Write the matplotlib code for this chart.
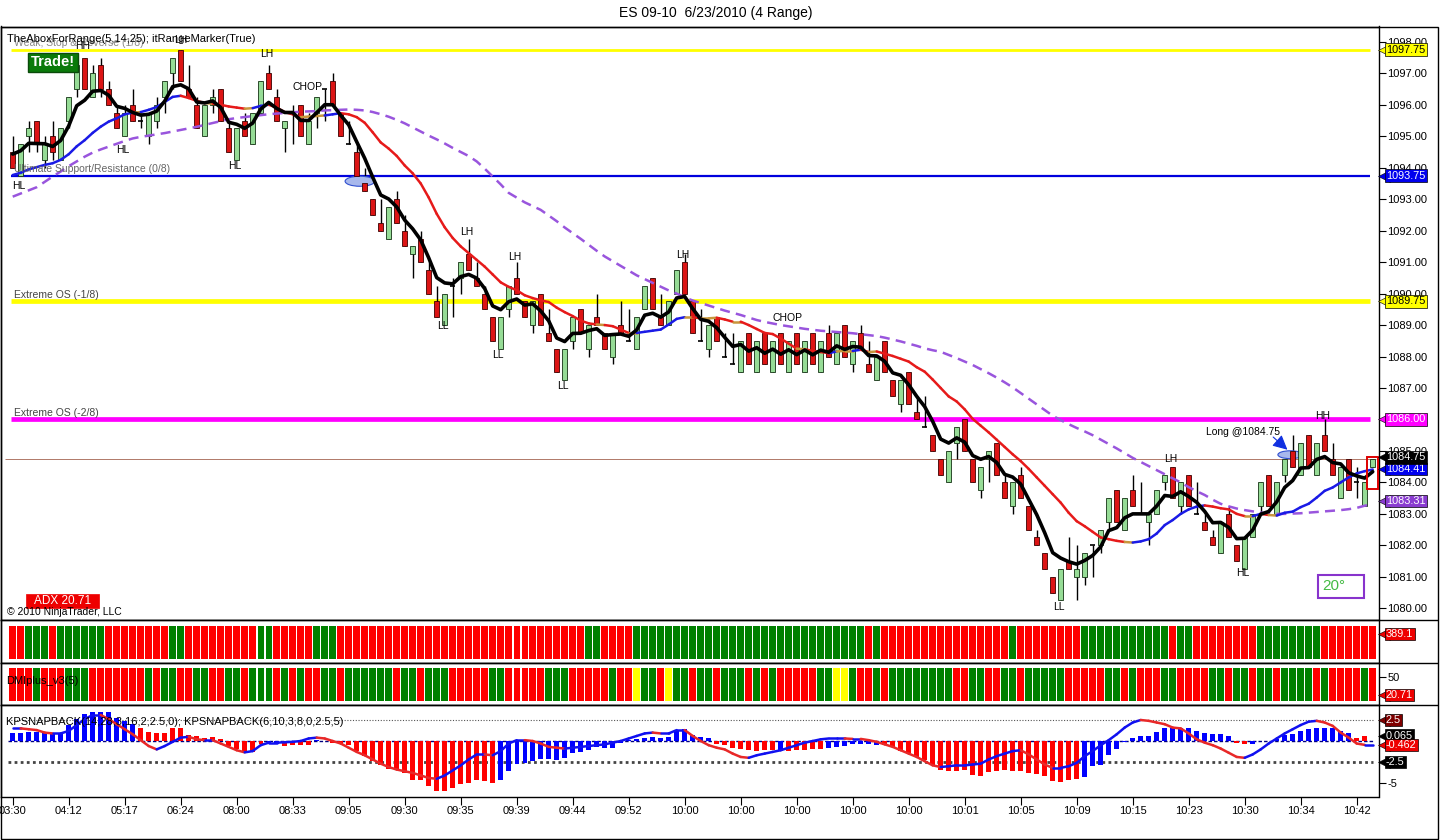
import numpy as np
import matplotlib
matplotlib.use('Agg')
import matplotlib.pyplot as plt
from matplotlib.collections import LineCollection
from matplotlib.patches import Ellipse, Rectangle
from matplotlib.ticker import FormatStrFormatter
import matplotlib.transforms as mtransforms

plt.rcParams['font.family'] = ['Liberation Sans', 'DejaVu Sans']

# ---------------- data ----------------
opens = [
    1094.5, 1093.75, 1095.0, 1095.5, 1094.25, 1095.0, 1094.25, 1095.5, 1096.5, 1097.5,
    1096.25, 1097.25, 1096.5, 1095.75, 1095.0, 1096.0, 1095.5, 1095.0, 1095.5, 1096.25,
    1097.0, 1097.75, 1096.5, 1096.0, 1095.0, 1096.0, 1096.5, 1095.25, 1094.25, 1095.5,
    1094.75, 1095.75, 1097.0, 1096.25, 1095.25, 1095.75, 1096.0, 1094.75, 1095.75, 1096.5,
    1096.75, 1095.75, 1094.75, 1094.5, 1093.5, 1093.0, 1092.25, 1091.75, 1093.0, 1092.0,
    1091.25, 1091.75, 1090.75, 1089.75, 1089.0, 1090.25, 1090.5, 1091.25, 1090.5, 1090.0,
    1089.25, 1088.25, 1089.5, 1090.5, 1089.75, 1089.0, 1090.0, 1088.75, 1088.25, 1087.25,
    1088.5, 1089.5, 1088.25, 1089.25, 1088.75, 1088.0, 1089.0, 1088.5, 1088.25, 1089.5,
    1090.5, 1089.25, 1089.0, 1090.0, 1091.0, 1089.75, 1088.5, 1088.25, 1089.25, 1088.0,
    1087.75, 1087.5, 1088.75, 1087.5, 1088.75, 1087.5, 1088.75, 1087.5, 1088.75, 1087.5,
    1088.75, 1087.5, 1088.75, 1087.75, 1089.0, 1087.75, 1088.75, 1087.75, 1087.25, 1088.5,
    1087.25, 1086.5, 1087.5, 1086.25, 1085.75, 1085.5, 1084.75, 1084.0, 1085.25, 1086.0,
    1084.75, 1083.75, 1084.75, 1085.25, 1084.0, 1083.25, 1084.25, 1083.25, 1082.25, 1081.75,
    1081.0, 1080.25, 1081.5, 1081.0, 1081.0, 1082.0, 1082.0, 1082.75, 1083.75, 1082.5,
    1083.75, 1083.0, 1082.75, 1083.0, 1084.0, 1084.5, 1083.25, 1084.25, 1083.0, 1082.75,
    1082.25, 1081.75, 1083.0, 1082.0, 1081.25, 1082.25, 1083.25, 1084.25, 1083.0, 1084.25,
    1085.0, 1084.25, 1085.5, 1084.25, 1085.5, 1084.75, 1083.5, 1084.75, 1084.0, 1083.25,
    1084.5]
highs = [
    1095.0, 1094.75, 1095.5, 1095.5, 1095.0, 1095.5, 1095.25, 1096.25, 1097.5, 1097.5,
    1097.25, 1097.5, 1096.75, 1096.0, 1096.0, 1096.5, 1095.75, 1095.75, 1096.25, 1096.75,
    1097.5, 1097.75, 1097.25, 1096.25, 1096.0, 1096.5, 1096.5, 1095.5, 1095.25, 1095.75,
    1095.75, 1096.75, 1097.25, 1096.5, 1095.5, 1096.0, 1096.0, 1095.75, 1096.25, 1096.5,
    1097.0, 1095.75, 1095.5, 1094.75, 1094.0, 1093.0, 1093.0, 1092.75, 1093.25, 1092.5,
    1091.5, 1092.0, 1091.0, 1090.25, 1090.0, 1090.5, 1091.0, 1091.75, 1091.0, 1090.25,
    1089.25, 1089.25, 1090.25, 1091.0, 1089.75, 1089.75, 1090.0, 1089.5, 1088.25, 1088.25,
    1089.25, 1089.5, 1089.0, 1090.0, 1088.75, 1088.75, 1089.75, 1089.5, 1089.25, 1090.25,
    1090.5, 1090.0, 1089.75, 1090.75, 1091.25, 1089.75, 1089.5, 1089.0, 1089.25, 1088.75,
    1088.75, 1088.5, 1088.75, 1088.5, 1088.75, 1088.5, 1088.75, 1088.5, 1088.75, 1088.5,
    1088.75, 1088.5, 1089.0, 1088.75, 1089.0, 1088.5, 1089.0, 1088.5, 1088.0, 1088.5,
    1087.25, 1087.25, 1087.5, 1086.75, 1086.75, 1085.5, 1084.75, 1085.0, 1085.75, 1086.0,
    1084.75, 1084.5, 1085.0, 1085.25, 1084.25, 1084.0, 1084.5, 1083.25, 1082.5, 1081.75,
    1081.0, 1081.25, 1082.25, 1082.0, 1081.75, 1082.0, 1082.5, 1083.5, 1083.75, 1083.5,
    1084.25, 1084.0, 1083.0, 1083.75, 1084.25, 1084.5, 1084.0, 1084.25, 1084.0, 1083.0,
    1082.5, 1082.75, 1083.25, 1082.0, 1082.25, 1083.0, 1084.0, 1084.25, 1084.0, 1084.75,
    1085.5, 1085.25, 1085.5, 1085.25, 1086.0, 1085.25, 1084.5, 1084.75, 1084.5, 1084.0,
    1084.75]
lows = [
    1094.0, 1093.75, 1094.5, 1094.5, 1094.0, 1094.25, 1094.25, 1095.25, 1096.25, 1096.5,
    1096.25, 1096.25, 1096.0, 1095.25, 1095.0, 1095.5, 1095.25, 1094.75, 1095.25, 1095.75,
    1096.5, 1096.75, 1096.25, 1095.25, 1095.0, 1095.75, 1095.5, 1094.5, 1094.25, 1095.0,
    1094.75, 1095.75, 1096.5, 1095.5, 1094.5, 1094.75, 1095.0, 1094.75, 1095.25, 1095.5,
    1096.0, 1095.0, 1094.75, 1093.75, 1093.25, 1092.5, 1092.0, 1091.75, 1092.25, 1091.5,
    1090.5, 1091.0, 1090.0, 1089.25, 1089.0, 1089.25, 1090.0, 1090.75, 1090.25, 1089.5,
    1088.5, 1088.25, 1089.25, 1090.0, 1089.25, 1088.75, 1089.0, 1088.5, 1087.5, 1087.25,
    1088.25, 1088.75, 1088.0, 1089.0, 1088.25, 1087.75, 1088.75, 1088.5, 1088.25, 1089.5,
    1089.5, 1089.0, 1089.0, 1090.0, 1090.0, 1088.75, 1088.5, 1088.0, 1088.5, 1088.0,
    1087.75, 1087.5, 1087.75, 1087.5, 1087.75, 1087.5, 1087.75, 1087.5, 1087.75, 1087.5,
    1087.75, 1087.5, 1088.0, 1087.75, 1088.0, 1087.5, 1088.25, 1087.5, 1087.25, 1087.5,
    1086.75, 1086.25, 1086.5, 1086.0, 1085.75, 1085.0, 1084.25, 1084.0, 1084.75, 1085.0,
    1084.0, 1083.5, 1084.0, 1084.25, 1083.5, 1083.0, 1083.5, 1082.5, 1082.0, 1081.25,
    1080.5, 1080.25, 1081.25, 1080.25, 1080.75, 1081.0, 1081.75, 1082.5, 1082.75, 1082.5,
    1083.25, 1083.0, 1082.0, 1083.0, 1083.75, 1083.5, 1083.0, 1083.25, 1083.0, 1082.5,
    1082.0, 1081.75, 1082.25, 1081.5, 1081.25, 1082.25, 1083.0, 1083.25, 1083.0, 1084.0,
    1084.5, 1084.25, 1084.5, 1084.25, 1085.0, 1084.25, 1083.5, 1083.75, 1083.5, 1083.25,
    1084.5]
closes = [
    1094.0, 1094.75, 1095.25, 1094.75, 1094.75, 1094.5, 1095.25, 1096.25, 1097.25, 1096.5,
    1097.0, 1096.5, 1096.0, 1095.25, 1095.75, 1095.5, 1095.5, 1095.75, 1096.0, 1096.75,
    1097.5, 1096.75, 1096.25, 1095.25, 1096.0, 1096.25, 1095.5, 1094.5, 1095.25, 1095.0,
    1095.75, 1096.75, 1096.5, 1095.5, 1095.5, 1095.75, 1095.0, 1095.5, 1096.25, 1096.5,
    1096.0, 1095.0, 1094.75, 1093.75, 1093.25, 1092.5, 1092.0, 1092.75, 1092.25, 1091.5,
    1091.5, 1091.0, 1090.0, 1089.25, 1090.0, 1090.25, 1091.0, 1090.75, 1090.25, 1089.5,
    1088.5, 1089.25, 1090.25, 1090.0, 1089.25, 1089.75, 1089.0, 1088.5, 1087.5, 1088.25,
    1089.25, 1088.75, 1089.0, 1089.0, 1088.25, 1088.75, 1088.75, 1088.5, 1089.25, 1090.25,
    1089.5, 1089.0, 1089.75, 1090.75, 1090.0, 1088.75, 1088.5, 1089.0, 1088.5, 1088.0,
    1087.75, 1088.5, 1087.75, 1088.5, 1087.75, 1088.5, 1087.75, 1088.5, 1087.75, 1088.5,
    1087.75, 1088.5, 1088.0, 1088.75, 1088.0, 1088.5, 1088.25, 1087.5, 1088.0, 1087.5,
    1086.75, 1087.25, 1086.5, 1086.0, 1085.75, 1085.0, 1084.25, 1085.0, 1085.75, 1085.0,
    1084.0, 1084.5, 1085.0, 1084.25, 1083.5, 1084.0, 1083.5, 1082.5, 1082.0, 1081.25,
    1080.5, 1081.25, 1081.25, 1081.25, 1081.75, 1082.0, 1082.5, 1083.5, 1082.75, 1083.5,
    1083.25, 1083.0, 1083.0, 1083.75, 1084.25, 1083.5, 1084.0, 1083.25, 1083.0, 1082.5,
    1082.0, 1082.75, 1082.25, 1081.5, 1082.25, 1083.0, 1084.0, 1083.25, 1084.0, 1084.75,
    1084.5, 1085.25, 1084.5, 1085.25, 1085.0, 1084.25, 1084.5, 1083.75, 1084.0, 1084.0,
    1084.75]

# slow (25) average of the Abox indicator per bar
ma_slow = [
    1093.08, 1093.18, 1093.28, 1093.38, 1093.55, 1093.72, 1093.88, 1094.05, 1094.20, 1094.35,
    1094.48, 1094.58, 1094.67, 1094.76, 1094.85, 1094.93, 1094.98, 1095.02, 1095.06, 1095.10,
    1095.15, 1095.20, 1095.25, 1095.30, 1095.36, 1095.42, 1095.48, 1095.54, 1095.58, 1095.61,
    1095.64, 1095.67, 1095.70, 1095.72, 1095.74, 1095.76, 1095.78, 1095.79, 1095.80, 1095.82,
    1095.83, 1095.84, 1095.85, 1095.84, 1095.82, 1095.77, 1095.70, 1095.62, 1095.52, 1095.41,
    1095.28, 1095.15, 1095.02, 1094.90, 1094.77, 1094.63, 1094.50, 1094.37, 1094.20, 1093.97,
    1093.72, 1093.47, 1093.20, 1093.05, 1092.90, 1092.78, 1092.66, 1092.48, 1092.30, 1092.10,
    1091.92, 1091.74, 1091.55, 1091.36, 1091.18, 1091.03, 1090.88, 1090.73, 1090.58, 1090.46,
    1090.34, 1090.22, 1090.10, 1090.00, 1089.88, 1089.78, 1089.70, 1089.62, 1089.54, 1089.46,
    1089.39, 1089.32, 1089.24, 1089.16, 1089.10, 1089.05, 1089.00, 1088.96, 1088.92, 1088.88,
    1088.85, 1088.82, 1088.80, 1088.78, 1088.76, 1088.74, 1088.71, 1088.68, 1088.65, 1088.60,
    1088.54, 1088.48, 1088.41, 1088.34, 1088.26, 1088.20, 1088.15, 1088.05, 1087.95, 1087.84,
    1087.73, 1087.60, 1087.47, 1087.33, 1087.18, 1087.02, 1086.84, 1086.66, 1086.48, 1086.30,
    1086.12, 1085.98, 1085.85, 1085.73, 1085.62, 1085.50, 1085.36, 1085.22, 1085.08, 1084.93,
    1084.78, 1084.65, 1084.52, 1084.39, 1084.26, 1084.13, 1084.00, 1083.85, 1083.72, 1083.60,
    1083.45, 1083.32, 1083.24, 1083.17, 1083.12, 1083.08, 1083.04, 1083.02, 1083.00, 1083.00,
    1083.01, 1083.02, 1083.04, 1083.06, 1083.08, 1083.10, 1083.12, 1083.15, 1083.19, 1083.26,
    1083.31]

# values of the fast / mid averages before the first bar
ma_fast_seed, ma_mid_seed = 1094.65, 1093.75

# horizontal S/R levels
level_prices = [1097.75, 1093.75, 1089.75, 1086.00]
level_names = ['Weak, Stop & Reverse (1/8)', 'Ultimate Support/Resistance (0/8)',
               'Extreme OS (-1/8)', 'Extreme OS (-2/8)']
entry_price = 1084.75

# panel 2 / panel 3 colour states per bar
trend_states = ("RRGGGRGGGG" "GGRRRRRRRR" "GGRRRRRRRR" "RGGRRRRRGG" "GRRRRRRRRR"
                "RRRRRRRRRR" "RRRRRRRRRR" "RRGGRRRRGG" "GGGGGGGGGG" "GGGGGGGGGG"
                "GGGGGGGRGR" "RRRRRRRRRR" "RRRRRGRRRR" "RRRRGGGGGG" "GGGGGRGGRR"
                "RRRRRRGGGG" "GGGGRRRRRR" "R")
dmi_states = ("RRRGRRRGGG" "RRRRRRRGRG" "GRRGGRRGGR" "GGGRGRGRRG" "GRGGGGGGRG"
              "GRGGGR" "RRRR" "GGRRRRRGGG" "RRRRRGRRYG" "GRYGGRGGRG" "GGRGRGRRRR"
              "RGGYYGRRGR" "GGG" "GGGGGRR" "GGRRGGRGGG" "GGRRRRRGGR" "GRRRGGRRRR"
              "GGRGGRGGRG" "GGGRGRRRRG" "R")

# KPSNAPBACK histogram and line
snap_hist = [
    0.9, 1.0, 1.1, 1.1, 1.1, 1.0, 1.0, 1.9, 2.6, 3.2,
    3.4, 3.4, 3.4, 2.7, 2.4, 2.0, 1.5, 1.1, 1.0, 1.0,
    1.5, 1.6, 0.7, 0.6, 0.4, 0.5, 0.2, -0.6, -1.0, -1.2,
    -1.3, -0.3, -0.2, -0.3, -0.6, -0.5, -0.5, -0.5, 0.1, 0.05,
    -0.2, -0.4, -0.5, -1.2, -1.8, -2.4, -2.8, -3.3, -3.4, -3.8,
    -4.6, -4.7, -5.4, -6.0, -6.0, -5.6, -5.1, -5.0, -4.7, -4.8,
    -5.0, -4.7, -3.6, -2.7, -2.6, -2.4, -2.2, -2.2, -2.3, -2.0,
    -1.4, -1.3, -1.1, -0.7, -0.8, -0.8, -0.2, 0.1, 0.2, 0.4,
    0.5, 0.4, 0.5, 1.3, 1.4, 0.7, 0.5, 0.3, -0.4, -0.5,
    -0.8, -1.0, -1.1, -1.2, -1.1, -1.1, -1.2, -1.2, -1.1, -1.1,
    -1.0, -0.9, -0.8, -0.7, -0.6, -0.4, -0.3, -0.4, -0.5, -0.5,
    -0.7, -1.2, -1.4, -1.9, -2.3, -2.8, -3.4, -3.6, -3.6, -3.5,
    -4.1, -4.2, -3.7, -3.6, -3.5, -3.6, -3.6, -3.8, -3.9, -4.2,
    -4.8, -4.9, -4.6, -4.5, -4.3, -3.0, -2.9, -1.7, -1.0, -0.1,
    0.3, 0.6, 0.6, 1.1, 1.5, 1.5, 1.6, 1.6, 1.2, 1.0,
    0.8, 0.8, 0.6, -0.2, -0.4, -0.4, 0.05, 0.0, 0.2, 0.7,
    0.8, 1.2, 1.4, 1.5, 1.6, 1.5, 1.2, 1.0, 0.4, 0.6,
    0.0]
snap_hist_states = ("BBBBBBBBBB" "BBBBBBRRRR" "RRRRRRRRRR" "RRBBRRRRBB" "RRRRRRRRRR"
                    "RRRRRRRRRR" "RBBBBBBBBB" "BBBBBBBBBB" "BBBBBBBBRR" "RRRRRRBRRR"
                    "RRBBBBBBBR" "RRRRRRRRRR" "RRRRRRRRRR" "RRRRBBBBBB" "BBBBBBBBBB"
                    "BBBRRBBBBB" "BBBBBBBBRR" "R")
snap_line = [
    1.5, 1.5, 1.4, 1.3, 1.0, 0.9, 0.9, 1.2, 1.9, 2.6,
    3.1, 3.1, 2.6, 2.0, 1.4, 0.8, 0.1, -0.6, -1.0, -0.6,
    -0.1, 0.4, 0.5, 0.2, 0.1, 0.1, -0.3, -0.7, -1.1, -1.35,
    -1.2, -0.5, -0.2, -0.2, -0.15, -0.1, 0.0, 0.3, 0.4, 0.3,
    0.0, -0.3, -0.8, -1.3, -1.7, -2.2, -2.7, -3.1, -3.4, -3.6,
    -3.8, -4.1, -4.4, -4.5, -4.1, -3.5, -2.9, -2.2, -1.6, -1.6,
    -1.7, -1.2, -0.3, 0.1, 0.1, 0.0, -0.3, -0.7, -0.8, -0.9,
    -0.8, -0.7, -0.6, -0.5, -0.4, -0.2, 0.0, 0.3, 0.6, 0.9,
    1.0, 0.9, 0.9, 1.3, 1.3, 0.6, 0.0, -0.5, -0.8, -1.0,
    -1.5, -1.9, -2.0, -1.7, -1.5, -1.3, -1.1, -0.8, -0.5, -0.2,
    0.0, 0.2, 0.3, 0.3, 0.3, 0.25, 0.25, 0.1, -0.1, -0.4,
    -0.7, -1.1, -1.5, -1.9, -2.4, -2.9, -3.1, -3.0, -2.9, -2.9,
    -2.8, -2.7, -2.2, -1.8, -1.5, -1.2, -1.1, -1.6, -2.2, -2.8,
    -3.2, -3.2, -3.0, -2.6, -1.8, -1.2, -0.5, 0.1, 0.8, 1.6,
    2.2, 2.5, 2.4, 2.2, 2.0, 1.6, 1.5, 0.9, 0.2, -0.2,
    -0.5, -0.9, -1.4, -1.9, -2.0, -1.6, -1.0, -0.3, 0.3, 0.9,
    1.4, 1.9, 2.3, 2.4, 2.2, 1.8, 1.0, 0.4, -0.3, -0.462,
    -0.462]
snap_levels = [2.5, 0.0, -2.5]

time_labels = ['03:30', '04:12', '05:17', '06:24', '08:00', '08:33', '09:05', '09:30',
               '09:35', '09:39', '09:44', '09:52', '10:00', '10:00', '10:00', '10:00',
               '10:00', '10:01', '10:05', '10:09', '10:15', '10:23', '10:30', '10:34',
               '10:42']
bars_per_label = 7

# swing markers (text, bar position, price)
swing_text = ['HH', 'HL', 'HL', 'LH', 'HL', 'LH', 'CHOP', 'LL', 'LH', 'LL', 'LH', 'LL',
              'LH', 'CHOP', 'LL', 'LH', 'HL', 'HH']
swing_bar = [8.8, 0.7, 13.7, 21.0, 27.7, 31.8, 36.9, 53.8, 56.7, 60.7, 62.8, 68.8,
             83.8, 96.8, 130.8, 144.8, 153.8, 163.8]
swing_price = [1097.87, 1093.42, 1094.56, 1098.06, 1094.05, 1097.61, 1096.56, 1088.97,
               1091.96, 1088.05, 1091.16, 1087.06, 1091.22, 1089.22, 1080.05, 1084.74,
               1081.11, 1086.10]

# ---------------- figure layout ----------------
W, H = 1440, 840
fig = plt.figure(figsize=(W / 100, H / 100), dpi=100)
fig.patch.set_facecolor('white')


def px_axes(l, t, r, b):
    return fig.add_axes([l / W, 1 - b / H, (r - l) / W, (b - t) / H])


AX_L, AX_R = 1, 1378.5
X0, DX = 12.7, 8.0
ax = px_axes(AX_L, 26.5, AX_R, 620)
ax2 = px_axes(AX_L, 620, AX_R, 663)
ax3 = px_axes(AX_L, 663, AX_R, 705)
ax4 = px_axes(AX_L, 705, AX_R, 797)
ov = fig.add_axes([0, 0, 1, 1], zorder=20)
ov.set_xlim(0, W)
ov.set_ylim(H, 0)
ov.axis('off')
ov.patch.set_alpha(0)

n = len(closes)
x = np.arange(n)
o = np.array(opens); h = np.array(highs); l = np.array(lows); c = np.array(closes)
xl = ((AX_L - X0) / DX, (AX_R - X0) / DX)

for a in (ax, ax2, ax3, ax4):
    a.set_xlim(*xl)
    a.set_facecolor('white')
    for s in a.spines.values():
        s.set_color('black')
        s.set_linewidth(1)
    a.tick_params(axis='x', which='both', bottom=False, labelbottom=False)
    a.yaxis.tick_right()
    a.tick_params(axis='y', direction='out', length=5, width=0.8, labelsize=8, pad=1.5,
                  colors='black')

# ---------------- main price panel ----------------
ax.set_ylim(1097 - (620 - 73.3) / 31.47, 1097 + (73.3 - 26.5) / 31.47)
ax.set_yticks(np.arange(1080, 1099, 1))
ax.yaxis.set_major_formatter(FormatStrFormatter('%.2f'))

lvl_colors = ['#FFFF00', '#0000DD', '#FFFF00', '#FF00FF']
lvl_widths = [2.0, 1.6, 3.4, 3.4]
lvl_text_colors = ['#888888', '#666666', '#444444', '#444444']
for p, nm, col, lw, tc in zip(level_prices, level_names, lvl_colors, lvl_widths, lvl_text_colors):
    ax.hlines(p, -0.2, 169.7, color=col, lw=lw, zorder=2)
    ax.text(0.15, p + 0.12, nm, fontsize=7.5, color=tc, ha='left', va='baseline', zorder=7)
ax.hlines(entry_price, -0.9, 170.4, color='#B07868', lw=0.7, zorder=2)

# candles
up = c > o
dn = c < o
dj = c == o
ax.vlines(x, l, h, color='black', lw=1.0, zorder=3)
ax.bar(x[up], (c - o)[up], bottom=o[up], width=0.62, color='#96DC96', edgecolor='#143214',
       lw=0.6, zorder=4)
ax.bar(x[dn], (o - c)[dn], bottom=c[dn], width=0.62, color='#DC1414', edgecolor='#3C0000',
       lw=0.6, zorder=4)
ax.hlines(o[dj], x[dj] - 0.33, x[dj] + 0.33, color='black', lw=1.2, zorder=4)


def ema(vals, period, seed):
    a = 2.0 / (period + 1)
    e = seed
    out = []
    for v in vals:
        e = e + a * (v - e)
        out.append(e)
    return np.array(out)


def sma(vals, period, seed):
    padded = np.concatenate([np.full(period - 1, seed), np.asarray(vals, dtype=float)])
    csum = np.cumsum(np.insert(padded, 0, 0.0))
    return (csum[period:] - csum[:-period]) / period


ma_fast = ema(c, 5, ma_fast_seed)
ma_mid = sma(c, 14, ma_mid_seed)
slow = np.array(ma_slow)

ax.plot(x, slow, color='#9955DD', lw=1.8, dashes=(4, 2.5), zorder=5)
d = np.diff(ma_mid)
segs = [[(i, ma_mid[i]), (i + 1, ma_mid[i + 1])] for i in range(n - 1)]
seg_cols = ['#1A1AE6' if v > 0.03 else ('#E61A1A' if v < -0.03 else '#C8963C') for v in d]
ax.add_collection(LineCollection(segs, colors=seg_cols, linewidths=1.8, zorder=5.5,
                                 capstyle='round'))
ax.plot(x, ma_fast, color='black', lw=2.6, zorder=6, solid_capstyle='round')

# swing labels
for t, bx, py in zip(swing_text, swing_bar, swing_price):
    ax.text(bx, py, t, fontsize=7.5, ha='center', va='center', color='black', zorder=8)

# ellipses, arrow, last-bar box
ax.add_patch(Ellipse((43.4, 1093.57), 3.7, 0.32, fc='#A8B8EC', ec='#3050D0', lw=0.8,
                     zorder=3.5))
ax.add_patch(Ellipse((159.7, 1084.88), 3.1, 0.25, fc='#A8B8EC', ec='#3050D0', lw=0.8,
                     zorder=3.5))
ax.text(153.8, 1085.61, 'Long @1084.75', fontsize=7.5, ha='center', va='center', zorder=8)
ax.annotate('', xy=(159.6, 1084.98), xytext=(157.3, 1085.5),
            arrowprops=dict(arrowstyle='-|>', color='#1030E0', lw=0.8, mutation_scale=22),
            zorder=8)
ax.add_patch(Rectangle((169.35, 1083.8), 1.35, 1.0, fill=False, ec='#DD0000', lw=1.4,
                       clip_on=False, zorder=8))

# ---------------- panel 2 ----------------
state_col = {'R': '#FF0000', 'G': '#008000', 'Y': '#FFFF00', 'B': '#0000FF'}
ax2.set_ylim(-0.12, 1.171)
ax2.bar(x, 1.0, bottom=0, width=0.8, color=[state_col[s] for s in trend_states])
ax2.set_yticks([])

# ---------------- panel 3 ----------------
ax3.set_ylim(-0.122, 1.162)
ax3.bar(x, 1.0, bottom=0, width=0.8, color=[state_col[s] for s in dmi_states])
ax3.set_yticks([0.734])
ax3.set_yticklabels(['50'])

# ---------------- panel 4 ----------------
ax4.set_ylim((741 - 797) / 8.4, (741 - 705) / 8.4)
ax4.bar(x, snap_hist, width=0.55, color=[state_col[s] for s in snap_hist_states], zorder=3)
ax4.hlines(snap_levels[0], -0.6, 170, color='#555555', lw=0.8, linestyles=(0, (1, 1.5)),
           zorder=2)
ax4.hlines(snap_levels[1], -0.6, 170, color='#000080', lw=1.0, linestyles=(0, (2.5, 1.5)),
           zorder=2)
ax4.hlines(snap_levels[2], -0.6, 170, color='#444444', lw=2.0, linestyles=(0, (1, 1.2)),
           zorder=2)
sl = np.array(snap_line)
lsegs = [[(i, sl[i]), (i + 1, sl[i + 1])] for i in range(n - 1)]
lcols = ['#1010F0' if sl[i + 1] >= sl[i] else '#E82828' for i in range(n - 1)]
ax4.add_collection(LineCollection(lsegs, colors=lcols, linewidths=1.8, zorder=4,
                                  capstyle='round'))
ax4.set_yticks([-5])
ax4.set_yticklabels(['-5'])
ax4.set_xticks(np.arange(0, bars_per_label * len(time_labels), bars_per_label))
ax4.set_xticklabels(time_labels)
ax4.tick_params(axis='x', bottom=True, labelbottom=True, direction='out', length=6,
                width=0.8, labelsize=8, pad=0.5)


# ---------------- price tags on the right ----------------
def tag(axh, yval, text, fc, tc='white'):
    tr = mtransforms.blended_transform_factory(ov.transData, axh.transData)
    axh.plot([1383.5], [yval], marker='<', ms=9, color=fc, mec='black', mew=0.4,
             transform=tr, clip_on=False, zorder=30)
    axh.text(1386, yval, text, transform=tr, ha='left', va='center', fontsize=7.8, color=tc,
             bbox=dict(boxstyle='square,pad=0.12', fc=fc, ec='black', lw=0.5),
             clip_on=False, zorder=31)


tag(ax, level_prices[0], '%.2f' % level_prices[0], '#FFFF00', 'black')
tag(ax, level_prices[1], '%.2f' % level_prices[1], '#0000EE')
tag(ax, level_prices[2], '%.2f' % level_prices[2], '#FFFF00', 'black')
tag(ax, level_prices[3], '%.2f' % level_prices[3], '#FF00FF')
tag(ax, slow[-1] + 0.1, '%.2f' % slow[-1], '#8A3CD0')
tag(ax, 1084.43, '%.2f' % ma_mid[-1], '#0000EE')
tag(ax, 1084.80, '%.2f' % closes[-1], '#000000')
tag(ax2, 0.75, '389.1', '#EE0000')
tag(ax3, 0.18, '20.71', '#EE0000')
tag(ax4, 2.5, '2.5', '#7F0000')
tag(ax4, 0.64, '0.065', '#000000')
tag(ax4, snap_line[-1], '%.3f' % snap_line[-1], '#EE0000')
tag(ax4, -2.5, '-2.5', '#000000')

# ---------------- fixed texts and frame ----------------
ov.add_patch(Rectangle((1, 26.5), 1437, 812, fill=False, ec='black', lw=1))
ov.hlines([620, 663, 705], 1, 1438, color='black', lw=1)
ov.text(716, 13, 'ES 09-10  6/23/2010 (4 Range)', ha='center', va='center', fontsize=10)
ov.text(7, 39.5, 'TheAboxForRange(5,14,25); itRangeMarker(True)', ha='left', va='center',
        fontsize=8, color='black')
ov.text(53, 62.5, 'Trade!', ha='center', va='center', fontsize=10.5, weight='bold',
        color='white', bbox=dict(boxstyle='square,pad=0.18', fc='#0A7A0A', ec='#0A4A0A'))
ov.text(7, 612, '\u00a9 2010 NinjaTrader, LLC', ha='left', va='center', fontsize=7.5)
ov.add_patch(Rectangle((26, 594), 73, 14, fc='#EE0000', ec='#EE0000', lw=0.5))
ov.text(62.5, 601.3, 'ADX 20.71', ha='center', va='center', fontsize=8.5, color='white')
ov.add_patch(Rectangle((1318, 575), 46, 23, fill=False, ec='#8833CC', lw=1.5))
ov.text(1322, 586.5, '20\u00b0', ha='left', va='center', fontsize=11, color='#44BB44')
ov.text(6, 681, 'DMIplus_v3(5)', ha='left', va='center', fontsize=8)
ov.text(6, 722, 'KPSNAPBACK(14,28,3,16,2,2.5,0); KPSNAPBACK(6,10,3,8,0,2.5,5)',
        ha='left', va='center', fontsize=8)

fig.savefig('out.png', dpi=100)
